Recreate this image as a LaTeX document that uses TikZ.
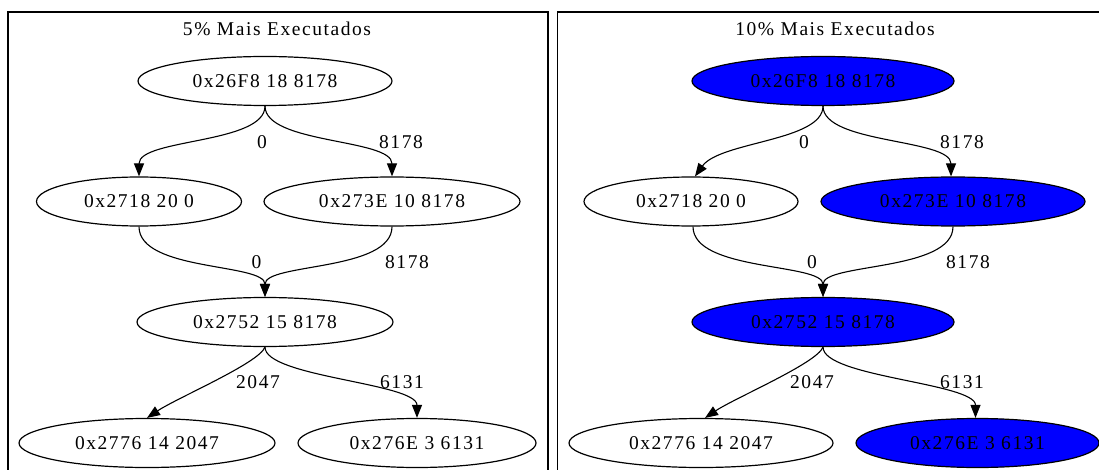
\documentclass[tikz,border=0pt]{standalone}
\usepackage{fontspec}
\setmainfont{Liberation Serif}[LetterSpace=8]
\usetikzlibrary{shapes.geometric,arrows.meta}
\definecolor{nodeblue}{RGB}{0,0,255}
\tikzset{
  nd/.style={ellipse,draw,line width=1.2pt,inner sep=0pt,minimum height=49pt,font=\gvfont},
  hot/.style={nd,fill=nodeblue},
  edge/.style={line width=1.1pt,-{Triangle[length=13pt,width=10pt]}},
  lbl/.style={font=\gvfont,inner sep=0pt},
  panel/.style={draw,line width=1.2pt}
}
\newcommand{\gvfont}{\fontsize{19.5pt}{22pt}\selectfont}
\begin{document}
\begin{tikzpicture}[x=1pt,y=-1pt]
\useasboundingbox (0,0) rectangle (1099,470);
% panels
\draw[panel] (8,12) rectangle (548,476);
\draw[panel] (557.5,12) rectangle (1110,476);
\node[lbl] (t1) at (277,28.5) {5\% Mais Executados};
\node[lbl] (t2) at (835,28.5) {10\% Mais Executados};
% left panel nodes
\node[nd,minimum width=254pt] (a1) at (265,81) {0x26F8 18 8178};
\node[nd,minimum width=205pt] (a2) at (139,201.5) {0x2718 20 0};
\node[nd,minimum width=256pt] (a3) at (392,201.5) {0x273E 10 8178};
\node[nd,minimum width=256pt] (a4) at (265,322) {0x2752 15 8178};
\node[nd,minimum width=256pt] (a5) at (147,443) {0x2776 14 2047};
\node[nd,minimum width=238pt] (a6) at (417,443) {0x276E 3 6131};
% left edges
\draw[edge] (a1.south) .. controls +(0,38) and +(0,-38) .. (a2.north);
\draw[edge] (a1.south) .. controls +(0,38) and +(0,-38) .. (a3.north);
\draw[edge] (a2.south) .. controls +(0,45) and +(0,-34) .. (a4.north);
\draw[edge] (a3.south) .. controls +(0,45) and +(0,-34) .. (a4.north);
\draw[edge] (a4.south) .. controls +(-6,16) and +(30,-20) .. (a5.north);
\draw[edge] (a4.south) .. controls +(0,30) and +(0,-35) .. (a6.north);
\node[lbl] (la1) at (262,141.7) {0};
\node[lbl] (la2) at (401,141.7) {8178};
\node[lbl] (la3) at (256.5,261.7) {0};
\node[lbl] (la4) at (407,261.7) {8178};
\node[lbl] (la5) at (258,381.7) {2047};
\node[lbl] (la6) at (402,381.7) {6131};
% right panel nodes
\node[hot,minimum width=262pt] (b1) at (823,81) {0x26F8 18 8178};
\node[nd,minimum width=214pt] (b2) at (691,201.5) {0x2718 20 0};
\node[hot,minimum width=264pt] (b3) at (953,201.5) {0x273E 10 8178};
\node[hot,minimum width=262pt] (b4) at (823,322) {0x2752 15 8178};
\node[nd,minimum width=264pt] (b5) at (701,443) {0x2776 14 2047};
\node[hot,minimum width=243pt] (b6) at (977.5,443) {0x276E 3 6131};
% right edges
\draw[edge] (b1.south) .. controls +(0,35) and +(25,-35) .. ([xshift=4pt]b2.north);
\draw[edge] (b1.south) .. controls +(0,38) and +(0,-38) .. ([xshift=-2pt]b3.north);
\draw[edge] ([xshift=2pt]b2.south) .. controls +(0,45) and +(0,-34) .. (b4.north);
\draw[edge] (b3.south) .. controls +(0,45) and +(0,-34) .. (b4.north);
\draw[edge] (b4.south) .. controls +(-6,16) and +(30,-20) .. ([xshift=4pt]b5.north);
\draw[edge] (b4.south) .. controls +(0,30) and +(0,-35) .. ([xshift=-2pt]b6.north);
\node[lbl] (lb1) at (804,141.7) {0};
\node[lbl] (lb2) at (962,141.7) {8178};
\node[lbl] (lb3) at (812,261.7) {0};
\node[lbl] (lb4) at (968,261.7) {8178};
\node[lbl] (lb5) at (812,381.7) {2047};
\node[lbl] (lb6) at (962,381.7) {6131};
\end{tikzpicture}
\end{document}
